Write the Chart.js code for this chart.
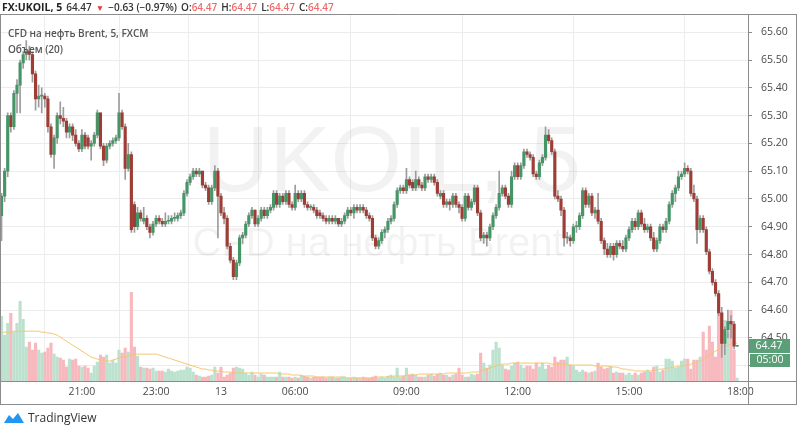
<!DOCTYPE html>
<html>
<head>
<meta charset="utf-8">
<script src="https://cdn.jsdelivr.net/npm/chart.js@4.4.1/dist/chart.umd.min.js"></script>
<style>
  html, body { margin: 0; padding: 0; background: #fff; }
  body { width: 797px; height: 426px; position: relative; overflow: hidden; font-family: "Open Sans", sans-serif; }
  #wrap { position: absolute; left: 0; top: 0; width: 797px; height: 426px; }
  #hdr { position: absolute; left: 2px; top: 1px; font-size: 10px; line-height: 13px; white-space: nowrap; color: #333; font-weight: 600; }
  #hdr span { margin-left: 4px; }
  #hdr .red { color: #ef6b6b; margin-left: 0; }
  .legend { position: absolute; left: 8px; font-size: 10px; color: #555; font-weight: 600; white-space: nowrap; }
  #logo { position: absolute; left: 3px; top: 409px; font-size: 12px; color: #333; white-space: nowrap; display: flex; align-items: center; }
</style>
</head>
<body>
<div id="wrap"><canvas id="chart" width="797" height="426"></canvas></div>

<div id="hdr"><b style="font-weight:700;color:#222;font-size:10.5px">FX:UKOIL, 5</b><span>64.47</span><span style="color:#e53935;font-size:8.5px">&#9660;</span><span>&minus;0.63 (&minus;0.97%)</span><span>O:<i class="red" style="font-style:normal">64.47</i></span><span>H:<i class="red" style="font-style:normal">64.47</i></span><span>L:<i class="red" style="font-style:normal">64.47</i></span><span>C:<i class="red" style="font-style:normal">64.47</i></span></div>

<div class="legend" style="top:26px">CFD на нефть Brent, 5, FXCM</div>
<div class="legend" style="top:42px">Объем (20)</div>

<div id="logo">
  <svg width="22" height="13" viewBox="0 0 22 13"><path d="M1 12 L6 4 L10 8 L15 2 L21 12 Z" fill="#2196f3"/></svg>
  <span style="margin-left:3px">TradingView</span>
</div>

<script>
// 5-minute candles, FX:UKOIL
let opens = [64.94,65.01,65.10,65.30,65.26,65.38,65.41,65.49,65.52,65.53,
  65.52,65.45,65.36,65.37,65.37,65.36,65.26,65.16,65.22,65.30,
  65.29,65.28,65.24,65.26,65.23,65.20,65.18,65.23,65.22,65.19,
  65.20,65.23,65.31,65.19,65.14,65.19,65.20,65.21,65.22,65.31,
  65.26,65.11,65.16,64.98,64.90,64.95,64.92,64.93,64.90,64.88,
  64.91,64.93,64.92,64.91,64.92,64.92,64.93,64.93,64.94,64.95,
  65.02,65.06,65.08,65.10,65.09,65.10,65.05,65.04,64.99,65.04,
  65.10,65.01,64.95,64.93,64.83,64.78,64.72,64.77,64.86,64.87,
  64.91,64.94,64.96,64.91,64.93,64.96,64.94,64.96,64.97,65.02,
  64.98,65.01,64.99,65.02,64.98,64.97,65.02,65.00,65.02,64.98,
  64.97,64.97,64.96,64.95,64.94,64.93,64.92,64.93,64.92,64.93,
  64.91,64.92,64.94,64.96,64.95,64.97,64.96,64.97,64.96,64.94,
  64.93,64.86,64.83,64.85,64.88,64.89,64.92,64.93,64.98,65.03,
  65.04,65.03,65.07,65.06,65.04,65.07,65.05,65.04,65.08,65.07,
  65.08,65.06,65.01,65.02,64.98,64.99,64.98,65.01,64.98,64.97,
  64.93,65.01,64.97,64.99,65.04,64.95,64.86,64.87,64.86,64.90,
  64.94,64.97,65.02,65.04,65.01,64.98,65.08,65.12,65.08,65.12,
  65.17,65.16,65.15,65.09,65.08,65.13,65.15,65.23,65.21,65.17,
  65.01,65.00,64.96,64.86,64.86,64.85,64.90,64.90,64.94,65.03,
  64.98,65.01,64.95,64.96,64.92,64.85,64.82,64.80,64.83,64.80,
  64.84,64.83,64.82,64.86,64.89,64.92,64.90,64.95,64.91,64.89,
  64.90,64.86,64.82,64.85,64.90,64.89,64.92,64.98,65.02,65.04,
  65.08,65.09,65.11,65.10,65.02,65.00,64.89,64.93,64.89,64.81,
  64.74,64.70,64.66,64.59,64.48,64.53,64.56,64.55,64.47];
let highs = [65.02,65.11,65.31,65.31,65.39,65.43,65.50,65.53,65.57,65.55,
  65.53,65.46,65.41,65.40,65.38,65.37,65.27,65.23,65.31,65.35,
  65.33,65.29,65.27,65.27,65.25,65.21,65.25,65.24,65.23,65.21,
  65.24,65.32,65.31,65.20,65.20,65.21,65.22,65.23,65.38,65.32,
  65.27,65.20,65.17,64.99,64.97,64.96,64.97,64.94,64.91,64.92,
  64.94,64.94,64.93,64.95,64.94,64.94,64.95,64.95,64.96,65.03,
  65.07,65.09,65.11,65.11,65.11,65.10,65.06,65.05,65.05,65.12,
  65.11,65.02,64.97,64.94,64.84,64.79,64.78,64.87,64.88,64.92,
  64.95,64.97,64.96,64.94,64.97,64.97,64.97,64.98,65.03,65.03,
  65.02,65.02,65.03,65.03,64.99,65.05,65.03,65.03,65.03,64.99,
  64.98,64.98,64.97,64.96,64.95,64.94,64.94,64.94,64.94,64.93,
  64.93,64.95,64.97,64.97,64.98,64.98,64.98,64.98,64.97,64.95,
  64.94,64.87,64.86,64.89,64.90,64.93,64.94,64.99,65.04,65.05,
  65.05,65.11,65.08,65.07,65.10,65.08,65.06,65.09,65.09,65.09,
  65.09,65.07,65.03,65.03,65.00,65.00,65.02,65.02,64.99,64.98,
  65.02,65.02,65.00,65.05,65.05,64.96,64.88,64.88,64.91,64.95,
  64.98,65.10,65.05,65.05,65.02,65.10,65.13,65.13,65.13,65.18,
  65.18,65.17,65.16,65.10,65.14,65.16,65.26,65.25,65.22,65.18,
  65.03,65.01,64.97,64.88,64.87,64.91,64.92,64.95,65.04,65.04,
  65.02,65.02,64.97,65.02,64.93,64.86,64.84,64.84,64.84,64.85,
  64.85,64.85,64.87,64.90,64.93,64.93,64.96,64.96,64.93,64.91,
  64.91,64.88,64.86,64.91,64.91,64.93,64.99,65.03,65.05,65.10,
  65.10,65.13,65.12,65.11,65.05,65.01,64.94,64.94,64.90,64.82,
  64.75,64.71,64.67,64.61,64.54,64.60,64.58,64.56,64.47];
let lows = [64.85,64.99,65.08,65.24,65.25,65.31,65.31,65.47,65.50,65.50,
  65.42,65.32,65.33,65.31,65.33,65.24,65.15,65.11,65.20,65.27,
  65.26,65.22,65.22,65.21,65.19,65.17,65.17,65.18,65.18,65.14,
  65.19,65.22,65.18,65.12,65.13,65.18,65.19,65.20,65.21,65.25,
  65.07,65.10,64.88,64.88,64.89,64.92,64.91,64.89,64.86,64.87,
  64.90,64.91,64.90,64.90,64.91,64.91,64.92,64.92,64.93,64.94,
  65.01,65.05,65.07,65.08,65.08,65.04,65.03,64.98,64.98,65.03,
  64.86,64.94,64.91,64.82,64.77,64.71,64.71,64.76,64.84,64.86,
  64.90,64.93,64.90,64.90,64.92,64.93,64.93,64.95,64.96,64.97,
  64.97,64.98,64.98,64.97,64.96,64.96,64.99,64.99,64.97,64.96,
  64.96,64.95,64.93,64.93,64.92,64.91,64.91,64.91,64.91,64.90,
  64.90,64.91,64.93,64.94,64.93,64.95,64.95,64.95,64.93,64.92,
  64.85,64.82,64.82,64.84,64.86,64.88,64.91,64.92,64.97,65.02,
  65.02,65.02,65.04,65.03,65.03,65.04,65.03,65.03,65.06,65.06,
  65.05,65.01,65.00,64.97,64.97,64.96,64.97,64.97,64.95,64.92,
  64.92,64.96,64.96,64.98,64.94,64.85,64.84,64.83,64.85,64.89,
  64.93,64.96,65.01,65.00,64.97,64.97,65.07,65.07,65.07,65.11,
  65.15,65.14,65.08,65.07,65.07,65.12,65.14,65.20,65.16,65.00,
  64.99,64.94,64.83,64.84,64.83,64.84,64.88,64.89,64.93,64.97,
  64.97,64.94,64.93,64.91,64.84,64.80,64.79,64.79,64.78,64.79,
  64.82,64.81,64.81,64.85,64.88,64.89,64.89,64.90,64.88,64.88,
  64.85,64.81,64.81,64.84,64.88,64.88,64.91,64.97,64.99,65.03,
  65.07,65.08,65.09,65.01,64.99,64.84,64.88,64.88,64.80,64.73,
  64.69,64.65,64.58,64.43,64.44,64.50,64.50,64.46,64.47];
let closes = [65.01,65.10,65.30,65.26,65.38,65.41,65.49,65.52,65.53,65.52,
  65.45,65.36,65.37,65.37,65.36,65.26,65.16,65.22,65.30,65.29,
  65.28,65.24,65.26,65.23,65.20,65.18,65.23,65.19,65.19,65.20,
  65.23,65.31,65.19,65.14,65.19,65.20,65.21,65.22,65.31,65.26,
  65.11,65.16,64.89,64.90,64.95,64.93,64.93,64.90,64.88,64.91,
  64.93,64.92,64.91,64.92,64.92,64.93,64.93,64.94,64.95,65.02,
  65.06,65.08,65.10,65.09,65.10,65.05,65.04,64.99,65.04,65.10,
  65.01,64.95,64.93,64.83,64.78,64.72,64.77,64.86,64.87,64.91,
  64.94,64.96,64.91,64.93,64.96,64.94,64.96,64.97,65.02,64.98,
  65.01,64.99,65.02,64.98,64.97,65.02,65.00,65.02,64.98,64.97,
  64.97,64.96,64.94,64.94,64.93,64.92,64.93,64.92,64.93,64.91,
  64.92,64.94,64.96,64.95,64.97,64.96,64.97,64.96,64.94,64.93,
  64.86,64.83,64.85,64.88,64.89,64.92,64.93,64.98,65.03,65.04,
  65.03,65.07,65.05,65.04,65.07,65.05,65.04,65.08,65.07,65.08,
  65.06,65.02,65.02,64.98,64.99,64.98,65.01,64.98,64.97,64.93,
  65.01,64.97,64.99,65.04,64.95,64.86,64.87,64.86,64.90,64.94,
  64.97,65.02,65.04,65.01,64.98,65.08,65.12,65.08,65.12,65.17,
  65.16,65.15,65.09,65.08,65.13,65.15,65.23,65.21,65.17,65.01,
  65.00,64.96,64.86,64.86,64.85,64.90,64.90,64.94,65.03,64.98,
  65.01,64.95,64.96,64.92,64.85,64.82,64.80,64.83,64.80,64.84,
  64.83,64.82,64.86,64.89,64.92,64.90,64.95,64.91,64.89,64.90,
  64.86,64.82,64.85,64.90,64.89,64.92,64.98,65.02,65.04,65.08,
  65.09,65.11,65.10,65.02,65.00,64.89,64.93,64.89,64.81,64.74,
  64.70,64.66,64.59,64.48,64.53,64.56,64.55,64.47,64.47];
let volumes = [65,46,58,68,49,58,80,62,34,39,
  31,38,31,28,29,33,38,27,24,23,
  21,14,22,21,22,15,14,15,13,8,
  15,19,26,24,26,18,21,18,31,28,
  33,29,89,34,25,14,13,13,12,13,
  10,10,10,9,12,10,9,10,11,11,
  14,13,9,6,5,4,4,5,6,14,
  8,14,4,6,8,13,14,13,12,8,
  6,9,6,4,7,6,4,4,4,4,
  9,4,4,4,3,4,3,6,5,4,
  3,4,4,4,4,3,4,4,3,3,
  4,4,3,3,4,3,3,4,3,3,
  4,5,3,4,3,5,6,4,13,4,
  5,13,6,7,6,4,4,4,6,7,
  5,7,8,6,6,4,6,7,13,6,
  4,4,7,6,7,28,18,13,16,31,
  39,33,16,12,11,15,18,19,16,13,
  15,15,12,18,14,18,12,16,14,24,
  19,21,21,24,16,15,11,9,11,9,
  8,9,10,18,14,12,13,15,8,9,
  8,8,6,8,6,8,6,8,9,11,
  9,14,15,9,11,22,22,20,13,14,
  20,22,22,12,21,21,24,49,31,55,
  39,24,74,68,61,48,71,31,3];
// Volume (20) moving average
let volumeMA = [49,49,49,49,50,50,50,50,50,50,
  50,50,50,49,49,48,48,47,46,44,
  42,40,38,36,34,32,30,28,26,24,
  23,22,21,21,20,20,21,22,23,24,
  24,25,26,27,27,27,27,27,27,27,
  27,26,25,24,23,22,21,20,19,18,
  17,16,15,14,13,12,12,11,11,10,
  10,10,9,9,9,8,8,8,8,8,
  8,8,8,8,8,8,8,8,8,8,
  7,7,7,7,6,6,6,5,5,5,
  5,5,4,4,4,4,4,4,4,4,
  4,4,3,3,3,3,3,3,3,3,
  3,4,4,4,4,4,4,5,5,5,
  5,6,6,6,6,7,7,7,7,7,
  7,7,7,7,8,8,8,8,8,8,
  8,8,9,9,9,10,11,12,13,14,
  15,16,17,17,17,18,18,18,18,18,
  18,18,18,18,18,18,18,18,17,17,
  17,17,17,17,16,16,16,16,16,16,
  16,16,15,15,15,15,15,14,14,14,
  13,12,12,11,11,10,10,10,10,10,
  10,11,11,12,12,13,13,14,14,15,
  15,16,16,17,18,19,20,22,24,26,
  28,30,32,34,35,36,37,38,38];

let timeTickIndex = [26, 50, 71, 95, 131, 167, 203, 239];
let timeTickLabels = ['21:00', '23:00', '13', '06:00', '09:00', '12:00', '15:00', '18:00'];
let priceTicks = [64.40, 64.50, 64.60, 64.70, 64.80, 64.90, 65.00, 65.10, 65.20, 65.30, 65.40, 65.50, 65.60];
let lastPrice = 64.47;
let barCountdown = '05:00';

const SLOTS = 242;
const upColor = '#459567';
const downColor = '#9e3d35';
const upVol = '#bce2cf';
const downVol = '#f7b9bd';
const frameColor = '#8c8c8c';

function isUp(i) { return closes[i] >= opens[i]; }

let wickPoints = opens.map((o, i) => ({ x: i, y: [lows[i], highs[i]] }));
let bodyPoints = opens.map((o, i) => ({ x: i, y: [o, closes[i]] }));
let volPoints = volumes.map((v, i) => ({ x: i, y: v }));
let maPoints = volumeMA.map((v, i) => ({ x: i, y: v }));

// watermark + frame + price tags
const decor = {
  id: 'decor',
  beforeDatasetsDraw(chart) {
    const ctx = chart.ctx, a = chart.chartArea;
    ctx.save();
    ctx.fillStyle = 'rgba(0,0,0,0.05)';
    ctx.textAlign = 'center';
    ctx.textBaseline = 'middle';
    ctx.font = '92px "Liberation Sans", sans-serif';
    ctx.fillText('UKOIL, 5', (a.left + a.right) / 2 + 18, 166);
    ctx.font = '40px "Liberation Sans", sans-serif';
    ctx.fillText('CFD на нефть Brent', (a.left + a.right) / 2 + 4, 245);
    ctx.restore();
  },
  afterDraw(chart) {
    const ctx = chart.ctx, a = chart.chartArea;
    ctx.save();
    ctx.strokeStyle = frameColor;
    ctx.lineWidth = 1;
    ctx.beginPath();
    ctx.moveTo(0, 14.5); ctx.lineTo(797, 14.5);
    ctx.moveTo(0, Math.round(a.bottom) + 0.5); ctx.lineTo(797, Math.round(a.bottom) + 0.5);
    ctx.moveTo(0, 404.5); ctx.lineTo(797, 404.5);
    ctx.moveTo(0.5, 14); ctx.lineTo(0.5, 405);
    ctx.moveTo(796.5, 14); ctx.lineTo(796.5, 405);
    ctx.moveTo(Math.round(a.right) + 0.5, 14); ctx.lineTo(Math.round(a.right) + 0.5, 405);
    ctx.stroke();

    const y = chart.scales.y.getPixelForValue(lastPrice);
    const x0 = Math.round(a.right) + 1;
    ctx.fillStyle = '#5b9f78';
    ctx.fillRect(x0, Math.round(y) - 7, 41, 14);
    ctx.fillRect(x0 + 1, Math.round(y) + 8, 40, 13);
    ctx.fillStyle = '#fff';
    ctx.font = '10.5px "Open Sans", sans-serif';
    ctx.textAlign = 'center';
    ctx.textBaseline = 'middle';
    ctx.fillText(lastPrice.toFixed(2), x0 + 20, Math.round(y));
    ctx.fillText(barCountdown, x0 + 21, Math.round(y) + 14.5);
    ctx.restore();
  }
};

new Chart(document.getElementById('chart'), {
  type: 'bar',
  data: {
    datasets: [
      {
        label: 'body', data: bodyPoints, yAxisID: 'y', order: 0,
        grouped: false, barThickness: 2.5, minBarLength: 1,
        backgroundColor: ctx => isUp(ctx.dataIndex) ? upColor : downColor
      },
      {
        label: 'wick', data: wickPoints, yAxisID: 'y', order: 1,
        grouped: false, barThickness: 1, minBarLength: 1,
        backgroundColor: '#9c9c9c'
      },
      {
        type: 'line', label: 'Объем (20)', data: maPoints, yAxisID: 'vol', order: 2,
        borderColor: '#f5c56b', borderWidth: 1, pointRadius: 0, tension: 0.3
      },
      {
        label: 'Объем', data: volPoints, yAxisID: 'vol', order: 3,
        grouped: false, barThickness: 2.5,
        backgroundColor: ctx => isUp(ctx.dataIndex) ? upVol : downVol
      }
    ]
  },
  options: {
    responsive: false,
    animation: false,
    events: [],
    layout: { padding: { top: 14, bottom: 22, left: 0, right: 0 } },
    plugins: { legend: { display: false }, tooltip: { enabled: false } },
    scales: {
      x: {
        type: 'linear', min: -0.5, max: SLOTS - 0.5, offset: false,
        afterBuildTicks: s => { s.ticks = timeTickIndex.map(v => ({ value: v })); },
        afterFit: s => { s.height = 23; },
        ticks: {
          autoSkip: false, maxRotation: 0, padding: 5,
          color: '#4a4a4a', font: { size: 10.5, family: 'Open Sans' },
          callback: v => timeTickLabels[timeTickIndex.indexOf(v)] || ''
        },
        grid: { color: '#ececec', drawTicks: false },
        border: { display: false }
      },
      y: {
        position: 'right', min: 64.345, max: 65.661,
        afterBuildTicks: s => { s.ticks = priceTicks.map(v => ({ value: v })); },
        afterFit: s => { s.width = 49; },
        ticks: {
          padding: 9, color: '#4a4a4a', font: { size: 10.5, family: 'Open Sans' },
          callback: v => v < 64.45 ? '' : v.toFixed(2)
        },
        grid: { color: '#ececec', tickColor: frameColor, tickLength: 4 },
        border: { display: false }
      },
      vol: { display: false, min: 0, max: 367 }
    }
  },
  plugins: [decor]
});
</script>
</body>
</html>
